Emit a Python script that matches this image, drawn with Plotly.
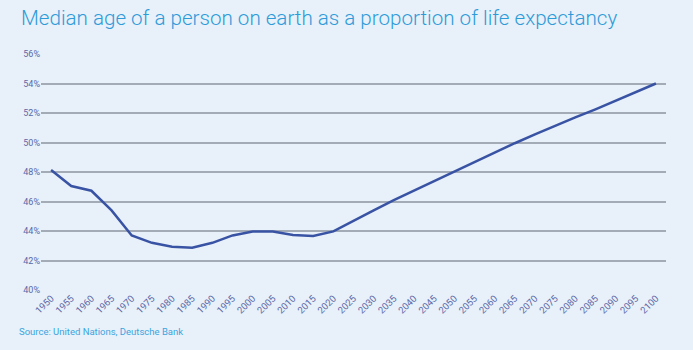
import plotly.graph_objects as go

years = [str(y) for y in range(1950, 2101, 5)]
median_share = [48.13, 47.05, 46.73, 45.4, 43.7, 43.2, 42.94, 42.87, 43.2, 43.7,
                43.97, 43.97, 43.73, 43.66, 43.97, 44.7, 45.4, 46.1, 46.75, 47.4,
                48.05, 48.7, 49.35, 49.95, 50.55, 51.15, 51.7, 52.25, 52.85, 53.4, 54.0]
y_ticks = [40, 42, 44, 46, 48, 50, 52, 54, 56]
y_tick_labels = [f"{v}%" for v in y_ticks]

title_text = "Median age of a person on earth as a proportion of life expectancy"
source_text = "Source: United Nations, Deutsche Bank"

bg = "#e8f0f9"
fig = go.Figure()
fig.add_trace(go.Scatter(
    x=years, y=median_share, mode="lines",
    line=dict(color="#3953a4", width=2.5),
    hoverinfo="skip", showlegend=False,
))

fig.update_layout(
    width=693, height=350,
    margin=dict(l=41, r=27, t=54, b=60),
    paper_bgcolor=bg, plot_bgcolor=bg,
    font=dict(family="Roboto", size=9, color="#5b68a8"),
    xaxis=dict(
        type="category", tickangle=-45, showgrid=False, zeroline=False,
        range=[-0.5, len(years) - 0.5],
        showline=False, ticks="", tickfont=dict(size=9.5, color="#5b68a8"),
    ),
    yaxis=dict(
        range=[40, 56], tickvals=y_ticks, ticktext=y_tick_labels,
        showgrid=True, gridcolor="#a3abb7", gridwidth=1.5,
        zeroline=False, showline=False, ticks="",
        tickfont=dict(size=9, color="#5b68a8"),
    ),
)
fig.add_annotation(
    text=title_text, xref="paper", yref="paper",
    x=-22 / 625, y=1 + 22 / 236, xanchor="left", yanchor="bottom",
    showarrow=False, font=dict(family="Roboto", size=20.6, color="#2e9bd9", weight=300),
)
fig.add_annotation(
    text=source_text, xref="paper", yref="paper",
    x=-24 / 625, y=-34 / 236, xanchor="left", yanchor="top",
    showarrow=False, font=dict(family="Roboto", size=9.5, color="#3aa5e0"),
)

fig.write_html("out.html")
